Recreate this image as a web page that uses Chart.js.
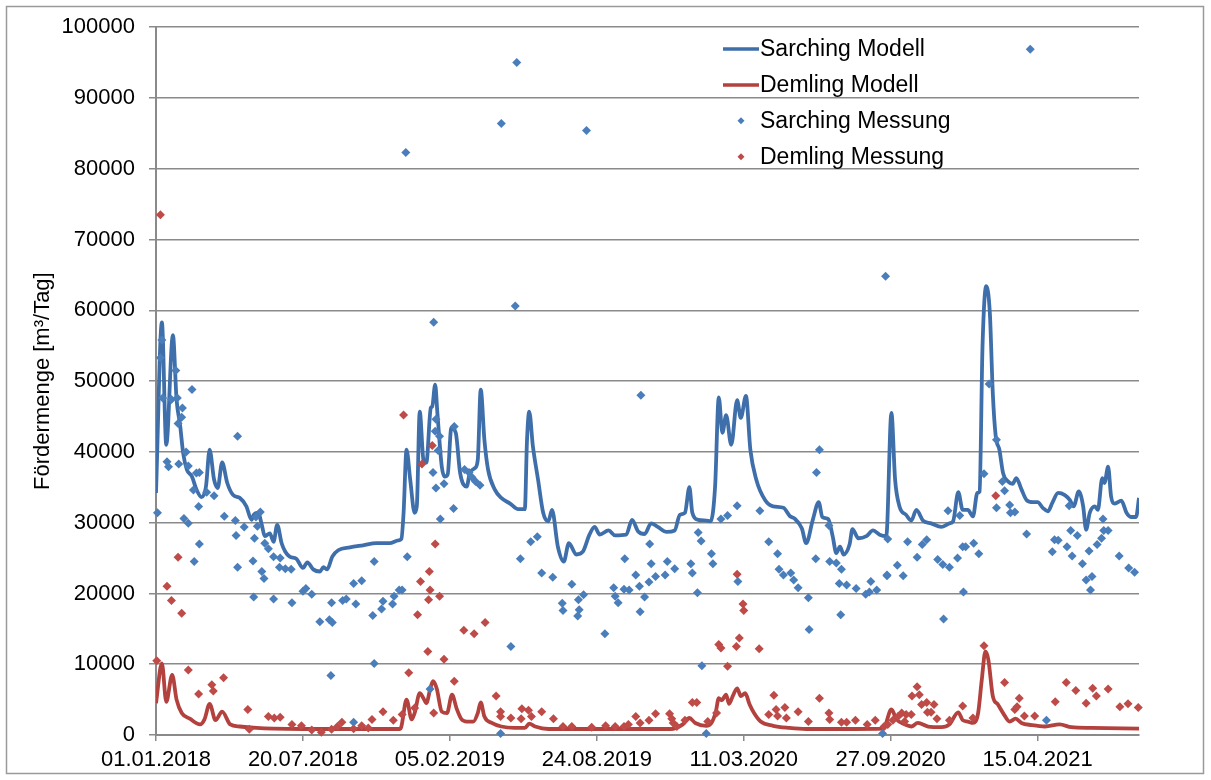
<!DOCTYPE html>
<html>
<head>
<meta charset="utf-8">
<script src="https://cdn.jsdelivr.net/npm/chart.js@4.4.1/dist/chart.umd.min.js"></script>
<style>
  html, body { margin: 0; padding: 0; background: #fff; }
</style>
</head>
<body>
<canvas id="foerderChart" width="1211" height="780"></canvas>
<script>
// Tage ab 01.01.2018 und Fördermenge in m³/Tag
const startDatum = Date.UTC(2018, 0, 1);
const xTickTage = [0, 200, 400, 600, 800, 1000, 1200];
const yTicks = [0, 10000, 20000, 30000, 40000, 50000, 60000, 70000, 80000, 90000, 100000];

const sarchingModellTag = [0, 8, 14, 23, 28, 33, 37, 42, 49, 55, 62, 68, 73, 79, 84, 90, 97, 105, 114, 123, 130, 133, 139, 144, 148, 155, 160, 165, 171, 176, 182, 191, 200, 206, 214, 223, 228, 233, 240, 248, 264, 282, 300, 318, 330, 334, 337, 341, 346, 352, 355, 359, 364, 368, 374, 376, 380, 383, 389, 393, 397, 402, 408, 414, 423, 427, 434, 438, 442, 447, 452, 461, 470, 482, 493, 502, 505, 508, 513, 520, 527, 534, 539, 547, 555, 562, 572, 581, 590, 597, 604, 616, 625, 640, 648, 656, 665, 674, 683, 695, 706, 713, 720, 726, 730, 738, 749, 755, 761, 766, 771, 776, 783, 791, 796, 803, 809, 817, 829, 840, 854, 863, 869, 879, 885, 894, 902, 907, 915, 921, 926, 931, 936, 944, 948, 956, 967, 976, 985, 994, 1001, 1006, 1012, 1021, 1028, 1035, 1044, 1055, 1069, 1080, 1085, 1092, 1098, 1105, 1112, 1118, 1121, 1125, 1130, 1135, 1139, 1143, 1148, 1153, 1160, 1166, 1171, 1178, 1185, 1194, 1200, 1207, 1214, 1220, 1228, 1237, 1244, 1249, 1256, 1262, 1266, 1271, 1278, 1282, 1288, 1291, 1296, 1300, 1305, 1314, 1321, 1327, 1334, 1338];
const sarchingModellWert = [34200, 58300, 41000, 56500, 47400, 43600, 39800, 37500, 36500, 34700, 33600, 35100, 40300, 36100, 34900, 38500, 35600, 33900, 33500, 32300, 30400, 31100, 31400, 29700, 28100, 28500, 27300, 29700, 27100, 25900, 25200, 24900, 23600, 24400, 23400, 23100, 23700, 23400, 25200, 26100, 26500, 26800, 27100, 27100, 27500, 27700, 31400, 40300, 36100, 31400, 32300, 45700, 38900, 38500, 46200, 46400, 49500, 45500, 37900, 36500, 36800, 43400, 42700, 37000, 35100, 37000, 37700, 38900, 48800, 41700, 37500, 34700, 33500, 32700, 31900, 31900, 41700, 45700, 40800, 36100, 31400, 30200, 31800, 26600, 24500, 27100, 25500, 25900, 28300, 29400, 28300, 28900, 28200, 28300, 30400, 28800, 28400, 29900, 29400, 28700, 28900, 31100, 31400, 35000, 31400, 30400, 30300, 30200, 35100, 47700, 42700, 45200, 41000, 47300, 44800, 47900, 40300, 36100, 33200, 32300, 32100, 30900, 30600, 29200, 27100, 30400, 32900, 30800, 30500, 28100, 25700, 26600, 25500, 26900, 29100, 27800, 28100, 28900, 28300, 28100, 45500, 36100, 32300, 31100, 30300, 31800, 30300, 29900, 29400, 29900, 30200, 34300, 31800, 31800, 30900, 34200, 34400, 54900, 63400, 59600, 48300, 42200, 40300, 37000, 35800, 35500, 36300, 34700, 33200, 32900, 32900, 32100, 31600, 32800, 34200, 33900, 33200, 32300, 34400, 32300, 29000, 31400, 32300, 31800, 36300, 35600, 37900, 33700, 32700, 33100, 31400, 30800, 30800, 33500];

const demlingModellTag = [0, 8, 14, 22, 28, 35, 46, 60, 66, 73, 81, 90, 101, 114, 137, 160, 200, 250, 300, 332, 334, 341, 348, 352, 359, 364, 368, 373, 377, 382, 389, 396, 403, 409, 416, 423, 432, 438, 442, 447, 457, 470, 488, 502, 508, 516, 534, 600, 650, 700, 708, 717, 726, 734, 749, 756, 762, 766, 770, 776, 780, 785, 791, 796, 802, 808, 814, 823, 840, 862, 885, 950, 990, 1001, 1008, 1019, 1028, 1037, 1051, 1069, 1080, 1092, 1098, 1105, 1112, 1119, 1124, 1129, 1133, 1139, 1146, 1153, 1162, 1170, 1178, 1192, 1210, 1230, 1246, 1273, 1338];
const demlingModellWert = [4500, 10100, 4700, 8500, 5000, 3100, 2300, 1500, 2200, 4400, 2100, 3300, 1500, 1200, 1000, 900, 850, 850, 850, 850, 1200, 5000, 2200, 3100, 5900, 5200, 4500, 6400, 7600, 6600, 3300, 3100, 5700, 3800, 2200, 1900, 1900, 3100, 4600, 2600, 1700, 1200, 1000, 1000, 1600, 1200, 850, 850, 850, 850, 1000, 1500, 2400, 1700, 1300, 1700, 3300, 5200, 4900, 5700, 4400, 5500, 6600, 5500, 5900, 4300, 3100, 1900, 1300, 1000, 850, 850, 900, 3600, 2200, 1500, 1200, 1700, 1200, 1100, 1500, 3200, 2100, 1900, 1700, 3100, 7800, 11800, 10600, 5500, 4300, 3100, 1900, 2300, 1700, 1400, 1200, 1500, 1100, 1000, 900];

const sarchingMessungTag = [340, 491, 470, 586, 1190, 993, 8, 6, 27, 49, 9, 21, 29, 36, 35, 30, 111, 15, 17, 31, 41, 44, 55, 59, 51, 69, 79, 58, 2, 38, 44, 93, 108, 142, 136, 109, 120, 138, 134, 59, 52, 148, 153, 160, 169, 168, 176, 184, 111, 132, 144, 147, 133, 160, 185, 200, 204, 212, 223, 236, 240, 239, 254, 259, 272, 269, 280, 297, 295, 307, 309, 322, 324, 238, 297, 269, 331, 489, 378, 660, 381, 406, 380, 386, 384, 377, 420, 426, 430, 435, 441, 392, 381, 405, 387, 342, 335, 496, 510, 519, 525, 540, 566, 553, 554, 575, 582, 576, 574, 483, 611, 638, 653, 623, 637, 644, 658, 625, 629, 659, 665, 373, 469, 903, 899, 791, 822, 778, 769, 738, 742, 672, 674, 696, 706, 693, 680, 671, 728, 730, 737, 756, 758, 792, 834, 846, 848, 854, 864, 868, 874, 888, 889, 898, 916, 917, 926, 933, 930, 940, 953, 932, 966, 973, 971, 981, 995, 743, 749, 989, 996, 995, 1009, 1017, 1023, 1036, 1043, 1049, 1064, 1071, 1080, 1072, 1078, 1091, 1094, 1098, 1102, 1099, 1113, 1120, 1127, 1134, 1144, 1152, 1155, 1144, 1162, 1163, 1169, 1185, 1220, 1223, 1228, 1240, 1245, 1243, 1247, 1254, 1261, 1270, 1266, 1274, 1272, 1281, 1287, 1290, 1296, 1289, 1311, 1324, 1332, 1212];
const sarchingMessungWert = [82300, 95000, 86400, 85400, 96900, 64800, 55800, 53300, 51500, 48800, 47600, 47400, 47600, 46200, 44900, 44000, 42200, 38600, 37900, 38300, 40000, 38000, 37000, 37100, 34600, 34300, 33800, 32300, 31400, 30600, 29900, 30900, 30300, 31500, 30800, 28200, 29400, 29500, 27800, 27000, 24500, 27100, 26300, 25200, 25000, 23700, 23500, 23400, 23700, 24600, 23100, 22100, 19500, 19200, 18700, 20300, 20700, 19900, 16000, 16300, 15900, 18700, 19000, 19200, 18500, 21400, 21800, 24500, 16900, 17800, 18900, 18500, 19600, 8400, 10100, 1800, 20500, 60600, 58300, 48000, 44600, 43600, 42900, 42200, 40200, 37100, 37500, 37100, 36400, 35800, 35300, 35500, 34900, 32000, 30500, 25200, 20500, 24900, 27300, 28000, 22900, 22300, 21300, 18600, 17600, 19100, 19800, 17700, 16800, 12500, 14300, 24900, 22600, 20800, 20600, 20500, 21000, 19600, 18700, 17400, 19500, 6500, 200, 40300, 37100, 32400, 31700, 31000, 30500, 28600, 27400, 27000, 24200, 24500, 23500, 22600, 22400, 21600, 24200, 22900, 20100, 25600, 24200, 21700, 27300, 25600, 23400, 22600, 22900, 21900, 20800, 19400, 14900, 24900, 29600, 24500, 24300, 23400, 21400, 21200, 20700, 17000, 19900, 21700, 20200, 20500, 22600, 9800, 200, 200, 27700, 22500, 24000, 22500, 27300, 25100, 26900, 27600, 24800, 24100, 23700, 16400, 31700, 25000, 31000, 26600, 26600, 20200, 27100, 25600, 36900, 49600, 41700, 35800, 34500, 32100, 32500, 31400, 31500, 28400, 25900, 27600, 27500, 26600, 28900, 32400, 25300, 28200, 24200, 26000, 21900, 22400, 20500, 26900, 27800, 28900, 28900, 30500, 25300, 23600, 23000, 2100];

const demlingMessungTag = [6, 30, 15, 21, 35, 1, 44, 58, 76, 78, 92, 125, 127, 153, 161, 169, 185, 198, 212, 225, 239, 247, 253, 269, 280, 289, 294, 309, 323, 337, 376, 362, 380, 372, 360, 373, 371, 386, 356, 448, 419, 433, 370, 392, 344, 406, 378, 352, 335, 463, 469, 469, 483, 498, 507, 497, 511, 525, 541, 554, 566, 593, 612, 625, 637, 643, 653, 659, 791, 799, 800, 766, 769, 790, 794, 821, 778, 730, 736, 671, 680, 699, 702, 704, 709, 720, 751, 763, 834, 841, 844, 846, 856, 858, 874, 888, 903, 916, 917, 933, 940, 952, 968, 979, 991, 1143, 1127, 996, 1003, 1010, 1015, 1021, 1019, 1028, 1029, 1036, 1039, 1042, 1049, 1050, 1055, 1059, 1063, 1080, 1098, 1112, 1155, 1169, 1172, 1175, 1182, 1196, 1224, 1239, 1252, 1266, 1275, 1280, 1296, 1312, 1323, 1337];
const demlingMessungWert = [73500, 25100, 21000, 19000, 17200, 10500, 9200, 5800, 7100, 6200, 8100, 3600, 800, 2600, 2400, 2500, 1500, 1300, 700, 400, 800, 1200, 1800, 900, 1300, 1000, 2200, 3300, 2100, 45200, 40900, 38300, 27000, 23100, 21700, 20500, 19100, 19600, 17000, 15900, 14800, 14300, 11800, 10700, 8800, 7600, 3100, 3800, 2900, 5500, 3300, 2600, 2400, 3700, 3500, 2300, 2600, 3300, 2300, 1200, 1200, 1100, 1300, 1200, 1200, 1500, 2600, 1700, 22700, 18500, 17600, 12800, 12300, 12500, 13700, 12200, 9700, 4600, 4600, 2100, 3000, 3000, 2300, 1700, 1200, 2100, 1900, 3100, 2900, 5600, 3600, 2700, 3900, 2400, 3300, 1900, 5200, 3100, 2200, 1800, 1800, 2100, 1500, 2100, 1200, 33800, 12600, 1500, 2100, 2600, 3100, 2900, 1900, 2900, 5500, 6800, 5700, 4300, 4600, 3200, 3200, 4300, 2300, 2100, 4100, 2400, 7400, 3600, 4000, 5200, 2700, 2700, 4700, 7400, 6300, 4500, 6600, 5500, 6500, 4000, 4400, 3900];

function punkte(tage, werte) {
    return tage.map((t, i) => ({ x: t, y: werte[i] }));
}

function datumText(tag) {
    const d = new Date(startDatum + tag * 86400000);
    const dd = String(d.getUTCDate()).padStart(2, '0');
    const mm = String(d.getUTCMonth() + 1).padStart(2, '0');
    return dd + '.' + mm + '.' + d.getUTCFullYear();
}

const schrift = '"Liberation Sans", Arial, sans-serif';

// Rahmen um das Diagramm
const rahmenPlugin = {
    id: 'rahmen',
    beforeDraw(chart) {
        const ctx = chart.ctx;
        ctx.save();
        ctx.fillStyle = '#ffffff';
        ctx.fillRect(0, 0, chart.width, chart.height);
        ctx.strokeStyle = '#9a9a9a';
        ctx.lineWidth = 1.5;
        ctx.strokeRect(6.5, 6.5, 1197, 767);
        ctx.restore();
    }
};

// Legende im Zeichenbereich oben rechts
const legendePlugin = {
    id: 'innenLegende',
    afterDraw(chart) {
        const ctx = chart.ctx;
        ctx.save();
        ctx.font = '23px ' + schrift;
        ctx.textBaseline = 'middle';
        chart.data.datasets.forEach((ds, i) => {
            const y = 49 + i * 35.9;
            if (ds.showLine) {
                ctx.strokeStyle = ds.borderColor;
                ctx.lineWidth = 3.5;
                ctx.beginPath();
                ctx.moveTo(723, y);
                ctx.lineTo(759, y);
                ctx.stroke();
            } else {
                ctx.fillStyle = ds.backgroundColor;
                ctx.beginPath();
                ctx.moveTo(741, y - 3.5);
                ctx.lineTo(744.5, y);
                ctx.lineTo(741, y + 3.5);
                ctx.lineTo(737.5, y);
                ctx.closePath();
                ctx.fill();
            }
            ctx.fillStyle = '#000';
            ctx.fillText(ds.label, 760, y + 1);
        });
        ctx.restore();
    }
};

const ctx = document.getElementById('foerderChart').getContext('2d');
const foerderChart = new Chart(ctx, {
    type: 'scatter',
    data: {
        datasets: [
            {
                label: 'Sarching Modell',
                data: punkte(sarchingModellTag, sarchingModellWert),
                showLine: true,
                borderColor: '#3F6FAA',
                backgroundColor: '#3F6FAA',
                borderWidth: 3.8,
                pointRadius: 0,
                cubicInterpolationMode: 'monotone',
                order: 2
            },
            {
                label: 'Demling Modell',
                data: punkte(demlingModellTag, demlingModellWert),
                showLine: true,
                borderColor: '#B3413E',
                backgroundColor: '#B3413E',
                borderWidth: 3.8,
                pointRadius: 0,
                cubicInterpolationMode: 'monotone',
                order: 2
            },
            {
                label: 'Sarching Messung',
                data: punkte(sarchingMessungTag, sarchingMessungWert),
                showLine: false,
                pointStyle: 'rectRot',
                pointRadius: 4.5,
                borderWidth: 0,
                backgroundColor: '#4A7EBB',
                borderColor: '#4A7EBB',
                clip: false,
                order: 0
            },
            {
                label: 'Demling Messung',
                data: punkte(demlingMessungTag, demlingMessungWert),
                showLine: false,
                pointStyle: 'rectRot',
                pointRadius: 4.5,
                borderWidth: 0,
                backgroundColor: '#BE4B48',
                borderColor: '#BE4B48',
                clip: false,
                order: 1
            }
        ]
    },
    options: {
        responsive: false,
        animation: false,
        layout: {
            padding: { left: 0, right: 72, top: 27, bottom: 0 }
        },
        plugins: {
            legend: { display: false },
            tooltip: { enabled: false }
        },
        scales: {
            x: {
                type: 'linear',
                min: 0,
                max: 1338,
                afterBuildTicks: (scale) => {
                    scale.ticks = xTickTage.map(v => ({ value: v }));
                },
                afterFit: (scale) => { scale.height = 45; },
                ticks: {
                    autoSkip: false,
                    maxRotation: 0,
                    padding: 6,
                    color: '#000',
                    font: { family: schrift, size: 22 },
                    callback: (v) => datumText(v)
                },
                grid: {
                    drawOnChartArea: false,
                    drawTicks: true,
                    tickLength: 6,
                    color: '#8a8a8a',
                    lineWidth: 1.5
                },
                border: { display: true, color: '#8a8a8a', width: 2 }
            },
            y: {
                min: 0,
                max: 100000,
                afterBuildTicks: (scale) => {
                    scale.ticks = yTicks.map(v => ({ value: v }));
                },
                afterFit: (scale) => { scale.width = 156; },
                ticks: {
                    padding: 14,
                    color: '#000',
                    font: { family: schrift, size: 22 },
                    callback: (v) => String(v)
                },
                grid: {
                    color: '#8a8a8a',
                    lineWidth: 1.5,
                    tickLength: 7
                },
                border: { display: true, color: '#8a8a8a', width: 2 },
                title: {
                    display: true,
                    text: 'Fördermenge [m³/Tag]',
                    color: '#000',
                    font: { family: schrift, size: 22 },
                    padding: { top: 30, bottom: 0 }
                }
            }
        }
    },
    plugins: [rahmenPlugin, legendePlugin]
});
</script>
</body>
</html>
